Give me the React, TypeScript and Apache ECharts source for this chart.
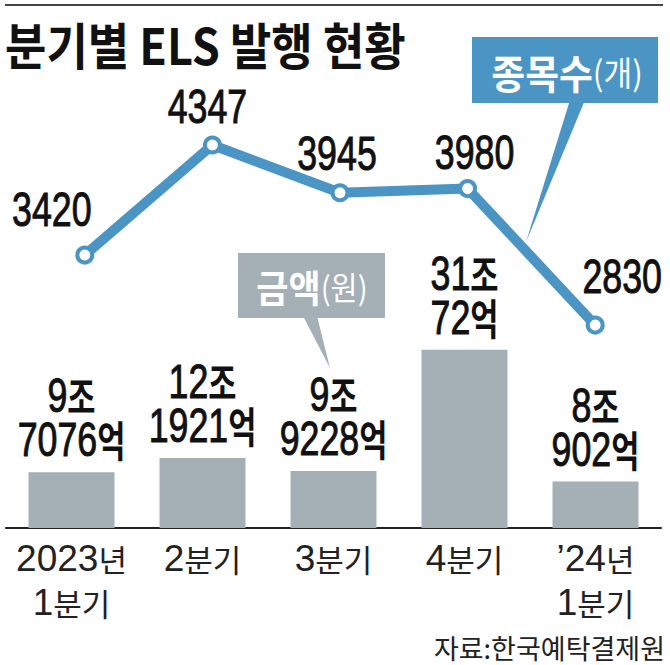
import React, { useEffect, useRef } from "react";
import * as echarts from "echarts";

const categories = ["2023년\n1분기", "2분기", "3분기", "4분기", "’24년\n1분기"];
// ELS issuance amount, in 억원 (hundred-million won)
const amounts = [97076, 121921, 99228, 310072, 80902];
// number of issues (종목수, 개)
const counts = [3420, 4347, 3945, 3980, 2830];

const countLabelOffsets = [
  [-33, -46],
  [-5, -39],
  [-3, -40],
  [7, -37],
  [27, -49],
];

const BLUE = "#4b95c5";
const GRAY = "#a4afb6";
const LAT = "'Liberation Sans', Arial, sans-serif";
const KR = "'Noto Sans CJK KR', sans-serif";
const SQUEEZE = 0.73;

function richify(s: string) {
  return s
    .split("\n")
    .map((line) =>
      line.replace(/([0-9’']+)/g, "{n|$1}").replace(/([가-힣]+)/g, "{h|$1}")
    )
    .join("\n");
}

export default function App() {
  const ref = useRef<HTMLDivElement>(null);
  useEffect(() => {
    document.body.style.margin = "0";
    const chart = echarts.init(ref.current!, null, { renderer: "svg" });
    const option: any = {
      animation: false,
      backgroundColor: "#ffffff",
      grid: [
        { left: 6, right: 9, top: 68, bottom: 137 },
        { left: 21, right: 11, top: 67.5, bottom: 4 },
      ],
      xAxis: [
        {
          type: "category",
          gridIndex: 0,
          data: categories,
          axisLine: { lineStyle: { color: "#222", width: 2 } },
          axisTick: { show: false },
          axisLabel: {
            margin: 8,
            interval: 0,
            color: "#222",
            formatter: (v: string) => richify(v),
            rich: {
              n: { fontFamily: LAT, fontSize: 37, lineHeight: 44, color: "#222" },
              h: { fontFamily: KR, fontSize: 31, lineHeight: 44, color: "#222" },
            },
          },
        },
        { type: "category", gridIndex: 1, data: categories, show: false },
      ],
      yAxis: [
        { type: "value", gridIndex: 0, min: 0, max: 800000, show: false },
        { type: "value", gridIndex: 1, min: 0, max: 5000, show: false },
      ],
      series: [
        {
          type: "bar",
          xAxisIndex: 0,
          yAxisIndex: 0,
          data: amounts,
          barWidth: 86,
          itemStyle: { color: GRAY },
        },
        {
          type: "custom",
          name: "amountLabels",
          coordinateSystem: "cartesian2d",
          xAxisIndex: 0,
          yAxisIndex: 0,
          silent: true,
          z: 4,
          data: amounts.map((v, i) => [i, v]),
          renderItem: (params: any, api: any) => {
            const v = api.value(1) as number;
            const pt = api.coord([api.value(0), v]);
            const jo = Math.floor(v / 10000);
            const eok = v % 10000;
            return {
              type: "text",
              x: pt[0],
              y: pt[1] - 11,
              scaleX: SQUEEZE,
              style: {
                text: `{n|${jo}}{h|조}\n{n|${eok}}{h|억}`,
                align: "center",
                verticalAlign: "bottom",
                fill: "#111",
                rich: {
                  n: {
                    fontFamily: LAT, fontSize: 49, lineHeight: 44, fill: "#111",
                    stroke: "#111", lineWidth: 1,
                  },
                  h: {
                    fontFamily: KR, fontSize: 42, fontWeight: "bold", lineHeight: 44, fill: "#111",
                  },
                },
              },
            };
          },
        },
        {
          type: "line",
          xAxisIndex: 1,
          yAxisIndex: 1,
          data: counts,
          lineStyle: { color: BLUE, width: 10 },
          symbol: "circle",
          symbolSize: 15,
          itemStyle: { color: "#ffffff", borderColor: BLUE, borderWidth: 4 },
          z: 3,
        },
        {
          type: "custom",
          name: "countLabels",
          coordinateSystem: "cartesian2d",
          xAxisIndex: 1,
          yAxisIndex: 1,
          silent: true,
          z: 4,
          data: counts.map((v, i) => [i, v]),
          renderItem: (params: any, api: any) => {
            const i = params.dataIndex;
            const pt = api.coord([api.value(0), api.value(1)]);
            const off = countLabelOffsets[i];
            return {
              type: "text",
              x: pt[0] + off[0],
              y: pt[1] + off[1],
              scaleX: SQUEEZE,
              style: {
                text: String(api.value(1)),
                align: "center",
                verticalAlign: "middle",
                fontFamily: LAT,
                fontSize: 49,
                fill: "#111",
                stroke: "#111",
                lineWidth: 1,
              },
            };
          },
        },
      ],
      graphic: [
        {
          type: "line",
          shape: { x1: 5, y1: 5, x2: 663, y2: 5 },
          style: { stroke: "#444", lineWidth: 2 },
        },
        {
          type: "text",
          x: 5,
          y: 43,
          scaleX: 0.9,
          style: {
            text: "분기별 ELS 발행 현황",
            align: "left",
            verticalAlign: "middle",
            textAlign: "left",
            textVerticalAlign: "middle",
            fontFamily: KR,
            fontSize: 50,
            fontWeight: "bold",
            fill: "#111",
          },
        },
        {
          type: "polygon",
          shape: { points: [[570, 100], [585, 100], [526, 242]] },
          style: { fill: BLUE },
        },
        {
          type: "rect",
          shape: { x: 472, y: 37, width: 186, height: 66 },
          style: { fill: BLUE },
        },
        {
          type: "text",
          x: 567,
          y: 71,
          scaleX: 0.92,
          style: {
            text: "{b|종목수}{s|(개)}",
            align: "center",
            verticalAlign: "middle",
            textAlign: "center",
            textVerticalAlign: "middle",
            rich: {
              b: { fontFamily: KR, fontSize: 40, fontWeight: "bold", fill: "#fff", color: "#fff" },
              s: { fontFamily: KR, fontSize: 34, fill: "#fff", color: "#fff" },
            },
          },
        },
        {
          type: "polygon",
          shape: { points: [[303, 316], [317, 316], [330, 368]] },
          style: { fill: GRAY },
        },
        {
          type: "rect",
          shape: { x: 238, y: 253, width: 147, height: 65 },
          style: { fill: GRAY },
        },
        {
          type: "text",
          x: 312,
          y: 286,
          scaleX: 0.92,
          style: {
            text: "{b|금액}{s|(원)}",
            align: "center",
            verticalAlign: "middle",
            textAlign: "center",
            textVerticalAlign: "middle",
            rich: {
              b: { fontFamily: KR, fontSize: 38, fontWeight: "bold", fill: "#fff", color: "#fff" },
              s: { fontFamily: KR, fontSize: 32, fill: "#fff", color: "#fff" },
            },
          },
        },
        {
          type: "text",
          x: 665,
          y: 647,
          style: {
            text: "자료:한국예탁결제원",
            align: "right",
            verticalAlign: "middle",
            textAlign: "right",
            textVerticalAlign: "middle",
            fontFamily: KR,
            fontSize: 27,
            fill: "#222",
          },
        },
      ],
    };
    chart.setOption(option);
    return () => chart.dispose();
  }, []);
  return (
    <div
      ref={ref}
      style={{ position: "fixed", left: 0, top: 0, width: 670, height: 665 }}
    />
  );
}
